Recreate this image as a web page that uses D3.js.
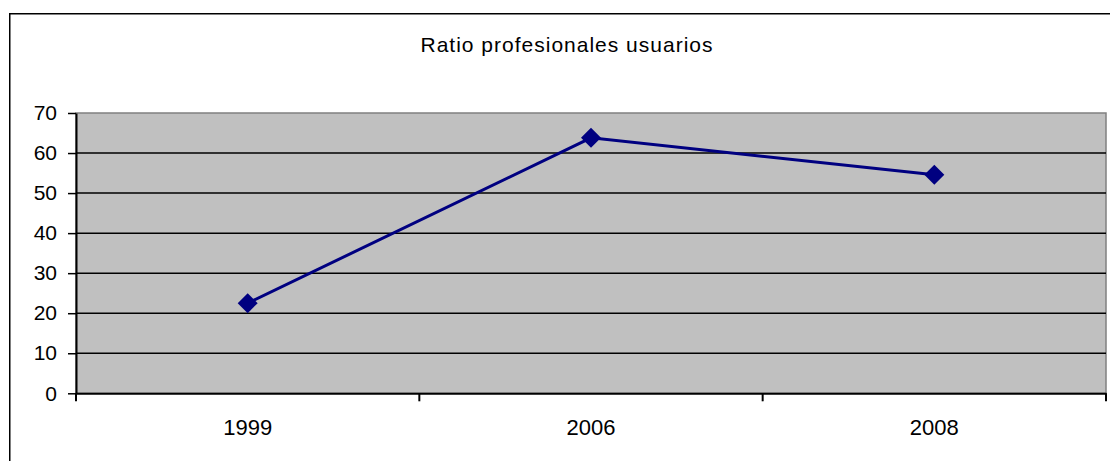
<!DOCTYPE html>
<html>
<head>
<meta charset="utf-8">
<script src="https://cdn.jsdelivr.net/npm/d3@7"></script>
<style>
  html, body { margin: 0; padding: 0; background: #fff; }
  svg { display: block; font-family: Arial, "Liberation Sans", sans-serif; }
</style>
</head>
<body>
<svg id="chart" width="1110" height="461"></svg>
<script>
const title = "Ratio profesionales usuarios";
const categories = ["1999", "2006", "2008"];
const values = [22.5, 63.8, 54.6];
const yTicks = [0, 10, 20, 30, 40, 50, 60, 70];

const svg = d3.select("#chart");
const m = { left: 76, right: 1106, top: 113, bottom: 393.3 };

// outer chart border (extends beyond the visible area on right/bottom)
svg.append("rect")
  .attr("x", 9.75).attr("y", 13.75)
  .attr("width", 1200).attr("height", 600)
  .attr("fill", "#fff").attr("stroke", "#000").attr("stroke-width", 1.5);

// title
svg.append("text")
  .attr("x", 567).attr("y", 52)
  .attr("text-anchor", "middle")
  .attr("font-size", 21)
  .attr("letter-spacing", 1)
  .attr("fill", "#000")
  .text(title);

const x = d3.scaleBand().domain(categories).range([m.left, m.right]);
const y = d3.scaleLinear().domain([0, 70]).range([m.bottom, m.top]);

// plot area
svg.append("rect")
  .attr("x", m.left).attr("y", m.top)
  .attr("width", m.right - m.left).attr("height", m.bottom - m.top)
  .attr("fill", "#c0c0c0").attr("stroke", "#808080").attr("stroke-width", 1.5);

// gridlines
svg.append("g").selectAll("line").data(yTicks.filter(d => d > 0 && d < 70)).join("line")
  .attr("x1", m.left).attr("x2", m.right)
  .attr("y1", d => y(d)).attr("y2", d => y(d))
  .attr("stroke", "#000").attr("stroke-width", 1.5);

// y axis
const yAxis = svg.append("g")
  .attr("transform", `translate(${m.left},0)`)
  .call(d3.axisLeft(y).tickValues(yTicks).tickSize(8).tickPadding(11).tickSizeOuter(0));
yAxis.select(".domain").attr("stroke", "#000").attr("stroke-width", 2);
yAxis.selectAll(".tick line").attr("stroke", "#000").attr("stroke-width", 1.5);
yAxis.selectAll(".tick text").attr("font-size", 21).attr("fill", "#000")
  .attr("font-family", "Arial, 'Liberation Sans', sans-serif");

// x axis
const xAxis = svg.append("g")
  .attr("transform", `translate(0,${m.bottom})`)
  .call(d3.axisBottom(x).tickSize(0).tickPadding(26));
xAxis.select(".domain").attr("stroke", "#000").attr("stroke-width", 2);
xAxis.selectAll(".tick text").attr("font-size", 22).attr("fill", "#000")
  .attr("font-family", "Arial, 'Liberation Sans', sans-serif");
// category boundary ticks
const boundaries = categories.map(c => x(c)).concat([x(categories[categories.length - 1]) + x.bandwidth()]);
svg.append("g").selectAll("line").data(boundaries).join("line")
  .attr("x1", d => d).attr("x2", d => d)
  .attr("y1", m.bottom).attr("y2", m.bottom + 8)
  .attr("stroke", "#000").attr("stroke-width", 2);

// line
const cx = c => x(c) + x.bandwidth() / 2;
svg.append("path")
  .datum(values)
  .attr("fill", "none")
  .attr("stroke", "#000080")
  .attr("stroke-width", 3)
  .attr("d", d3.line().x((d, i) => cx(categories[i])).y(d => y(d)));

// diamond markers
svg.append("g").selectAll("path").data(values).join("path")
  .attr("transform", (d, i) => `translate(${cx(categories[i])},${y(d)}) rotate(45)`)
  .attr("d", d3.symbol().type(d3.symbolSquare).size(200))
  .attr("fill", "#000080");
</script>
</body>
</html>
